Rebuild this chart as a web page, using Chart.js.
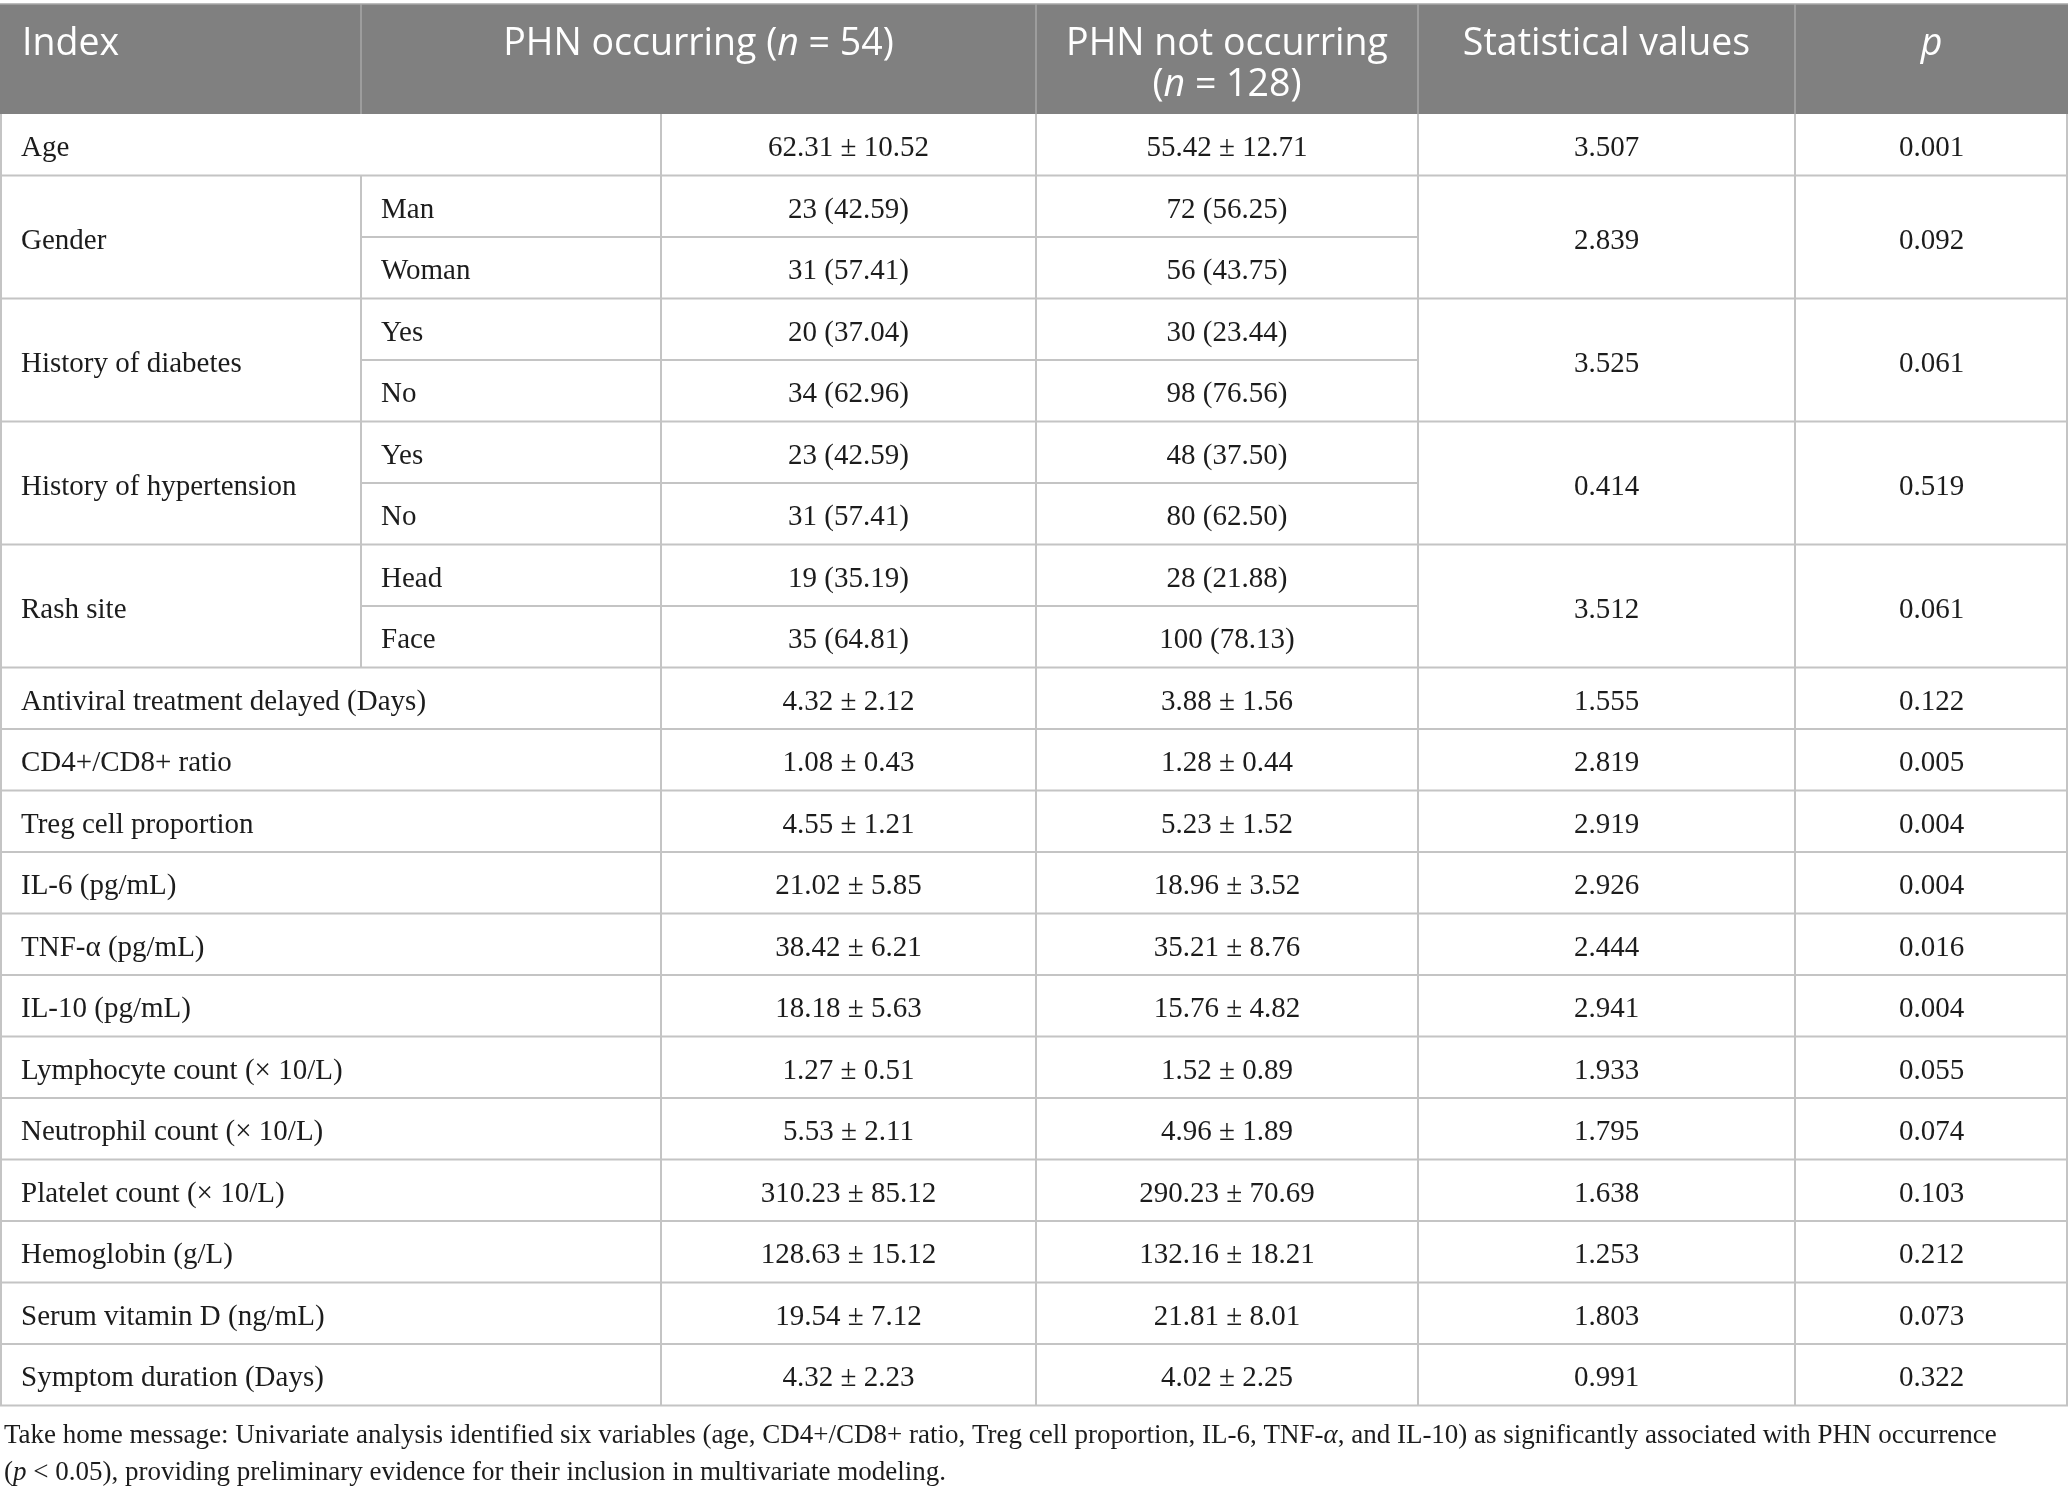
<!DOCTYPE html>
<html>
<head>
<meta charset="utf-8">
<script src="https://cdn.jsdelivr.net/npm/chart.js@4.4.1/dist/chart.umd.min.js"></script>
<style>
  html, body { margin: 0; padding: 0; background: #ffffff; }
  #wrap { width: 2068px; height: 1494px; position: relative; }
</style>
</head>
<body>
<div id="wrap"><canvas id="c"></canvas></div>
<script>
// ---------------- DATA ----------------
const variables = [
  "Age", "Gender", "History of diabetes", "History of hypertension", "Rash site",
  "Antiviral treatment delayed (Days)", "CD4+/CD8+ ratio", "Treg cell proportion",
  "IL-6 (pg/mL)", "TNF-α (pg/mL)", "IL-10 (pg/mL)", "Lymphocyte count (× 10/L)",
  "Neutrophil count (× 10/L)", "Platelet count (× 10/L)", "Hemoglobin (g/L)",
  "Serum vitamin D (ng/mL)", "Symptom duration (Days)"
];
const subLevels = [
  [], ["Man", "Woman"], ["Yes", "No"], ["Yes", "No"], ["Head", "Face"],
  [], [], [], [], [], [], [], [], [], [], [], []
];
const phnOccurring = [
  ["62.31 ± 10.52"], ["23 (42.59)", "31 (57.41)"], ["20 (37.04)", "34 (62.96)"],
  ["23 (42.59)", "31 (57.41)"], ["19 (35.19)", "35 (64.81)"],
  ["4.32 ± 2.12"], ["1.08 ± 0.43"], ["4.55 ± 1.21"], ["21.02 ± 5.85"], ["38.42 ± 6.21"],
  ["18.18 ± 5.63"], ["1.27 ± 0.51"], ["5.53 ± 2.11"], ["310.23 ± 85.12"], ["128.63 ± 15.12"],
  ["19.54 ± 7.12"], ["4.32 ± 2.23"]
];
const phnNotOccurring = [
  ["55.42 ± 12.71"], ["72 (56.25)", "56 (43.75)"], ["30 (23.44)", "98 (76.56)"],
  ["48 (37.50)", "80 (62.50)"], ["28 (21.88)", "100 (78.13)"],
  ["3.88 ± 1.56"], ["1.28 ± 0.44"], ["5.23 ± 1.52"], ["18.96 ± 3.52"], ["35.21 ± 8.76"],
  ["15.76 ± 4.82"], ["1.52 ± 0.89"], ["4.96 ± 1.89"], ["290.23 ± 70.69"], ["132.16 ± 18.21"],
  ["21.81 ± 8.01"], ["4.02 ± 2.25"]
];
const statValues = [
  "3.507", "2.839", "3.525", "0.414", "3.512", "1.555", "2.819", "2.919", "2.926",
  "2.444", "2.941", "1.933", "1.795", "1.638", "1.253", "1.803", "0.991"
];
const pValues = [
  "0.001", "0.092", "0.061", "0.519", "0.061", "0.122", "0.005", "0.004", "0.004",
  "0.016", "0.004", "0.055", "0.074", "0.103", "0.212", "0.073", "0.322"
];
// header labels: segments [text, italic]
const headerIndex = [["Index", false]];
const headerOcc = [["PHN occurring (", false], ["n", true], [" = 54)", false]];
const headerNotOccLine1 = [["PHN not occurring", false]];
const headerNotOccLine2 = [["(", false], ["n", true], [" = 128)", false]];
const headerStat = [["Statistical values", false]];
const headerP = [["p", true]];
const footnoteLine1 = [["Take home message: Univariate analysis identified six variables (age, CD4+/CD8+ ratio, Treg cell proportion, IL-6, TNF-", false], ["α", true], [", and IL-10) as significantly associated with PHN occurrence", false]];
const footnoteLine2 = [["(", false], ["p", true], [" < 0.05), providing preliminary evidence for their inclusion in multivariate modeling.", false]];

// ---------------- LAYOUT / STYLE ----------------
const totalRows = subLevels.reduce((s, a) => s + Math.max(1, a.length), 0);
const colEdges = [0, 361, 661, 1036, 1418, 1795, 2068]; // x-scale units (px width)
const SERIF = '"Liberation Serif", "DejaVu Serif", serif';
const SANS = '"Open Sans", "Noto Sans", sans-serif';
const BODY_FONT_SIZE = 29;
const HEAD_FONT_SIZE = 37.5;
const FOOT_FONT_SIZE = 27;
const TEXT_COLOR = '#1c1c1c';
const LINE_COLOR = '#c4c4c4';
const HEAD_BG = '#808080';

function drawRich(ctx, segs, x, y, align, size, family, color) {
  ctx.fillStyle = color;
  ctx.textBaseline = 'alphabetic';
  const widths = segs.map(([t, it]) => {
    ctx.font = (it ? 'italic ' : '') + size + 'px ' + family;
    return ctx.measureText(t).width;
  });
  const total = widths.reduce((a, b) => a + b, 0);
  let cx = align === 'center' ? x - total / 2 : x;
  ctx.textAlign = 'left';
  segs.forEach(([t, it], i) => {
    ctx.font = (it ? 'italic ' : '') + size + 'px ' + family;
    ctx.fillText(t, cx, y);
    cx += widths[i];
  });
}

const tablePlugin = {
  id: 'tableDraw',
  beforeDraw(chart) {
    const ctx = chart.ctx;
    ctx.save();
    ctx.fillStyle = '#ffffff';
    ctx.fillRect(0, 0, chart.width, chart.height);
    ctx.restore();
  },
  afterDraw(chart) {
    const ctx = chart.ctx;
    const xs = chart.scales.x, ys = chart.scales.y;
    const X = v => xs.getPixelForValue(v);
    const Y = v => ys.getPixelForValue(v);
    const top = Y(0), bottom = Y(totalRows);
    const headTop = 4;
    ctx.save();

    // header background
    ctx.fillStyle = HEAD_BG;
    ctx.fillRect(X(colEdges[0]), headTop, X(colEdges[6]) - X(colEdges[0]), top - headTop);
    ctx.strokeStyle = '#a6a6a6';
    ctx.lineWidth = 1.5;
    ctx.beginPath();
    ctx.moveTo(X(colEdges[0]), headTop); ctx.lineTo(X(colEdges[6]), headTop);
    [colEdges[1], colEdges[3], colEdges[4], colEdges[5]].forEach(e => {
      ctx.moveTo(X(e), headTop); ctx.lineTo(X(e), top);
    });
    ctx.stroke();

    // header text
    const hb1 = headTop + 50.5, hb2 = headTop + 91.5;
    drawRich(ctx, headerIndex, X(colEdges[0]) + 22, hb1, 'left', HEAD_FONT_SIZE, SANS, '#ffffff');
    drawRich(ctx, headerOcc, (X(colEdges[1]) + X(colEdges[3])) / 2, hb1, 'center', HEAD_FONT_SIZE, SANS, '#ffffff');
    drawRich(ctx, headerNotOccLine1, (X(colEdges[3]) + X(colEdges[4])) / 2, hb1, 'center', HEAD_FONT_SIZE, SANS, '#ffffff');
    drawRich(ctx, headerNotOccLine2, (X(colEdges[3]) + X(colEdges[4])) / 2, hb2, 'center', HEAD_FONT_SIZE, SANS, '#ffffff');
    drawRich(ctx, headerStat, (X(colEdges[4]) + X(colEdges[5])) / 2, hb1, 'center', HEAD_FONT_SIZE, SANS, '#ffffff');
    drawRich(ctx, headerP, (X(colEdges[5]) + X(colEdges[6])) / 2, hb1, 'center', HEAD_FONT_SIZE, SANS, '#ffffff');

    // body
    ctx.strokeStyle = LINE_COLOR;
    ctx.lineWidth = 2;
    const cap = BODY_FONT_SIZE * 0.33 + 2;
    let r = 0;
    variables.forEach((name, i) => {
      const n = Math.max(1, subLevels[i].length);
      const gTop = Y(r), gBot = Y(r + n);
      const gMid = (gTop + gBot) / 2;
      ctx.beginPath();
      ctx.moveTo(X(colEdges[0]), gBot); ctx.lineTo(X(colEdges[6]), gBot);
      ctx.stroke();
      const vcols = subLevels[i].length ? [1, 2, 3, 4, 5] : [2, 3, 4, 5];
      ctx.beginPath();
      vcols.forEach(c => { ctx.moveTo(X(colEdges[c]), gTop); ctx.lineTo(X(colEdges[c]), gBot); });
      ctx.stroke();
      drawRich(ctx, [[name, false]], X(colEdges[0]) + 21, gMid + cap, 'left', BODY_FONT_SIZE, SERIF, TEXT_COLOR);
      for (let k = 0; k < n; k++) {
        const rTop = Y(r + k), rBot = Y(r + k + 1), rMid = (rTop + rBot) / 2;
        if (k < n - 1) {
          ctx.beginPath();
          ctx.moveTo(X(colEdges[1]), rBot); ctx.lineTo(X(colEdges[4]), rBot);
          ctx.stroke();
        }
        if (subLevels[i].length) {
          drawRich(ctx, [[subLevels[i][k], false]], X(colEdges[1]) + 20, rMid + cap, 'left', BODY_FONT_SIZE, SERIF, TEXT_COLOR);
        }
        drawRich(ctx, [[phnOccurring[i][k], false]], (X(colEdges[2]) + X(colEdges[3])) / 2, rMid + cap, 'center', BODY_FONT_SIZE, SERIF, TEXT_COLOR);
        drawRich(ctx, [[phnNotOccurring[i][k], false]], (X(colEdges[3]) + X(colEdges[4])) / 2, rMid + cap, 'center', BODY_FONT_SIZE, SERIF, TEXT_COLOR);
      }
      drawRich(ctx, [[statValues[i], false]], (X(colEdges[4]) + X(colEdges[5])) / 2, gMid + cap, 'center', BODY_FONT_SIZE, SERIF, TEXT_COLOR);
      drawRich(ctx, [[pValues[i], false]], (X(colEdges[5]) + X(colEdges[6])) / 2, gMid + cap, 'center', BODY_FONT_SIZE, SERIF, TEXT_COLOR);
      r += n;
    });
    ctx.beginPath();
    ctx.moveTo(X(colEdges[0]) + 1, top); ctx.lineTo(X(colEdges[0]) + 1, bottom);
    ctx.moveTo(X(colEdges[6]) - 1, top); ctx.lineTo(X(colEdges[6]) - 1, bottom);
    ctx.stroke();

    // footnote
    drawRich(ctx, footnoteLine1, X(colEdges[0]) + 4, bottom + 37, 'left', FOOT_FONT_SIZE, SERIF, TEXT_COLOR);
    drawRich(ctx, footnoteLine2, X(colEdges[0]) + 4, bottom + 74, 'left', FOOT_FONT_SIZE, SERIF, TEXT_COLOR);
    ctx.restore();
  }
};

new Chart(document.getElementById('c'), {
  type: 'scatter',
  data: { datasets: [{ data: [], pointRadius: 0 }] },
  options: {
    responsive: true,
    maintainAspectRatio: false,
    animation: false,
    events: [],
    layout: { padding: { top: 114, bottom: 88.5, left: 0, right: 0 } },
    plugins: { legend: { display: false }, tooltip: { enabled: false } },
    scales: {
      x: { type: 'linear', min: colEdges[0], max: colEdges[6], display: false },
      y: { type: 'linear', min: 0, max: totalRows, reverse: true, display: false }
    }
  },
  plugins: [tablePlugin]
});
</script>
</body>
</html>
